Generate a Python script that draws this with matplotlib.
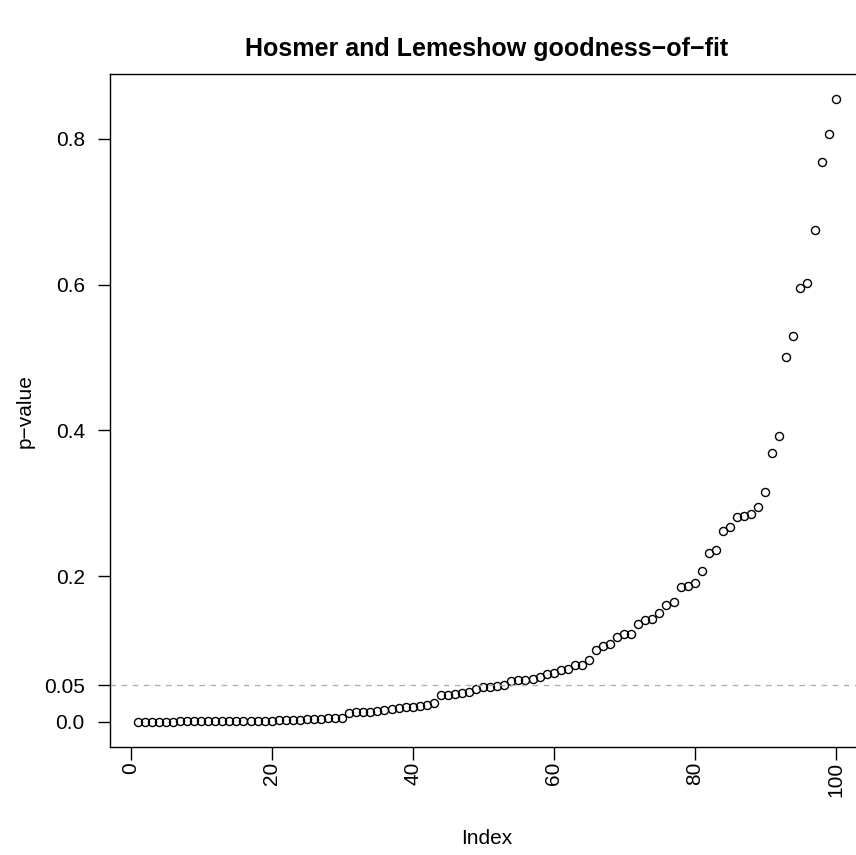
import matplotlib
matplotlib.use('Agg')
import matplotlib.pyplot as plt

# sorted p-values
index = list(range(1, 101))
p_values = [
    0.0001, 0.0002, 0.0003, 0.0003, 0.0004, 0.0005, 0.0006, 0.0007, 0.0008, 0.0009,
    0.0010, 0.0011, 0.0012, 0.0013, 0.0014, 0.0015, 0.0016, 0.0017, 0.0018, 0.0019,
    0.0021, 0.0025, 0.0028, 0.0031, 0.0034, 0.0038, 0.0042, 0.0048, 0.0054, 0.0060,
    0.0125, 0.0130, 0.0135, 0.0140, 0.0155, 0.0165, 0.0178, 0.0185, 0.0198, 0.0210,
    0.0222, 0.0238, 0.0258, 0.0365, 0.0375, 0.0385, 0.0398, 0.0410, 0.0455, 0.0475,
    0.0480, 0.0492, 0.0510, 0.0560, 0.0575, 0.0580, 0.0590, 0.0620, 0.0655, 0.0665,
    0.0718, 0.0730, 0.0775, 0.0780, 0.0850, 0.0990, 0.1040, 0.1070, 0.1165, 0.1200,
    0.1205, 0.1350, 0.1400, 0.1410, 0.1500, 0.1600, 0.1650, 0.1850, 0.1865, 0.1905,
    0.2070, 0.2320, 0.2360, 0.2620, 0.2670, 0.2810, 0.2825, 0.2850, 0.2950, 0.3150,
    0.3690, 0.3920, 0.5010, 0.5300, 0.5950, 0.6020, 0.6750, 0.7680, 0.8060, 0.8540,
]
cutoff = 0.05
x_ticks = [0, 20, 40, 60, 80, 100]
y_ticks = [0.0, 0.05, 0.2, 0.4, 0.6, 0.8]
y_tick_labels = ['0.0', '0.05', '0.2', '0.4', '0.6', '0.8']

plt.rcParams['font.family'] = ['Liberation Sans', 'DejaVu Sans']

fig = plt.figure(figsize=(8.56, 8.55), dpi=100)
# right edge of the box falls outside the picture, like the reference
ax = fig.add_axes([0.1283, 0.1266, 0.8806, 0.7863])

ax.plot(index, p_values, linestyle='none', marker='o', markersize=5.8,
        markerfacecolor='none', markeredgecolor='black', markeredgewidth=1.0)
ax.axhline(cutoff, color='#b0b0b0', linestyle=(0, (4, 4)), linewidth=1.0)

# R style 4% padding around the data range
xpad = 0.04 * (max(index) - min(index))
ypad = 0.04 * (max(p_values) - min(p_values))
ax.set_xlim(min(index) - xpad, max(index) + xpad)
ax.set_ylim(min(p_values) - ypad, max(p_values) + ypad)

ax.set_xticks(x_ticks)
ax.set_xticklabels([str(t) for t in x_ticks], rotation=90, va='top')
ax.set_yticks(y_ticks)
ax.set_yticklabels(y_tick_labels)
ax.tick_params(direction='out', length=9, width=1.0, labelsize=15)
ax.tick_params(axis='x', pad=2)
ax.tick_params(axis='y', pad=9)

for s in ax.spines.values():
    s.set_linewidth(1.0)

ax.set_xlabel('Index', fontsize=15, labelpad=23)
ax.set_ylabel('p\u2212value', fontsize=15, labelpad=7)
fig.text(0.5687, 0.943, 'Hosmer and Lemeshow goodness\u2212of\u2212fit',
         ha='center', va='center', fontsize=18, fontweight='bold')

fig.savefig('out.png', dpi=100)
